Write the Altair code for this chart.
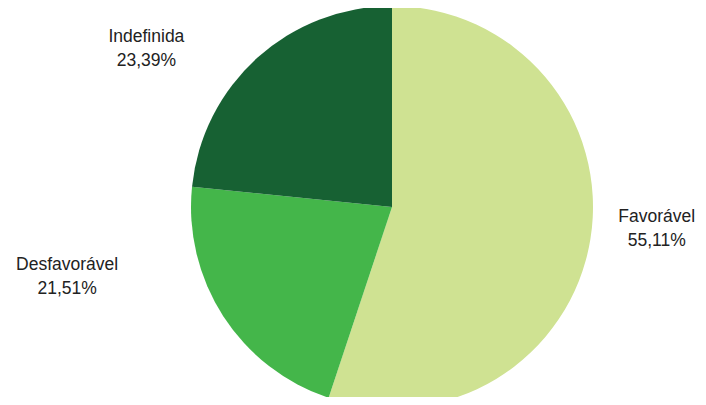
import altair as alt
import pandas as pd
import math

categories = ["Favorável", "Desfavorável", "Indefinida"]
values = [55.11, 21.51, 23.39]
labels = ["55,11%", "21,51%", "23,39%"]
colors = ["#CFE292", "#44B64A", "#176133"]

df = pd.DataFrame({
    "cat": categories,
    "val": values,
    "pct": labels,
    "ord": list(range(len(categories))),
})
df["label"] = [[c, p] for c, p in zip(df["cat"], df["pct"])]

CX, CY = 384, 199
R = 201

pie = alt.Chart(df).mark_arc(radius=R, stroke=None).encode(
    theta=alt.Theta("val:Q", stack=True),
    order=alt.Order("ord:Q"),
    color=alt.Color("cat:N", scale=alt.Scale(domain=categories, range=colors), legend=None),
    x=alt.value(CX),
    y=alt.value(CY),
)

text_base = (
    alt.Chart(df)
    .transform_window(cum="sum(val)", sort=[alt.SortField("ord")], frame=[None, 0])
    .transform_joinaggregate(total="sum(val)")
    .transform_calculate(ang=f"(datum.cum - datum.val/2) / datum.total * 2 * {math.pi}")
)

offsets = {
    "Favorável": (18, -30),
    "Desfavorável": (-115, -78),
    "Indefinida": (-78, 16),
}

layers = [pie]
for c in categories:
    dx, dy = offsets[c]
    layers.append(
        text_base.transform_filter(alt.datum.cat == c)
        .mark_text(
            radius=250, dx=dx, dy=dy,
            font="Liberation Sans, Arial, sans-serif",
            fontSize=17.5, lineHeight=24, color="#222222",
            align="center", baseline="middle",
        )
        .encode(
            theta=alt.Theta("ang:Q", scale=None),
            text="label",
            x=alt.value(CX),
            y=alt.value(CY),
        )
    )

chart = alt.layer(*layers).properties(
    width=690, height=389,
    autosize=alt.AutoSizeParams(type="none"),
    padding=0,
).configure_view(stroke=None)

chart.save("out.html", embed_options={"renderer": "svg", "actions": False})
